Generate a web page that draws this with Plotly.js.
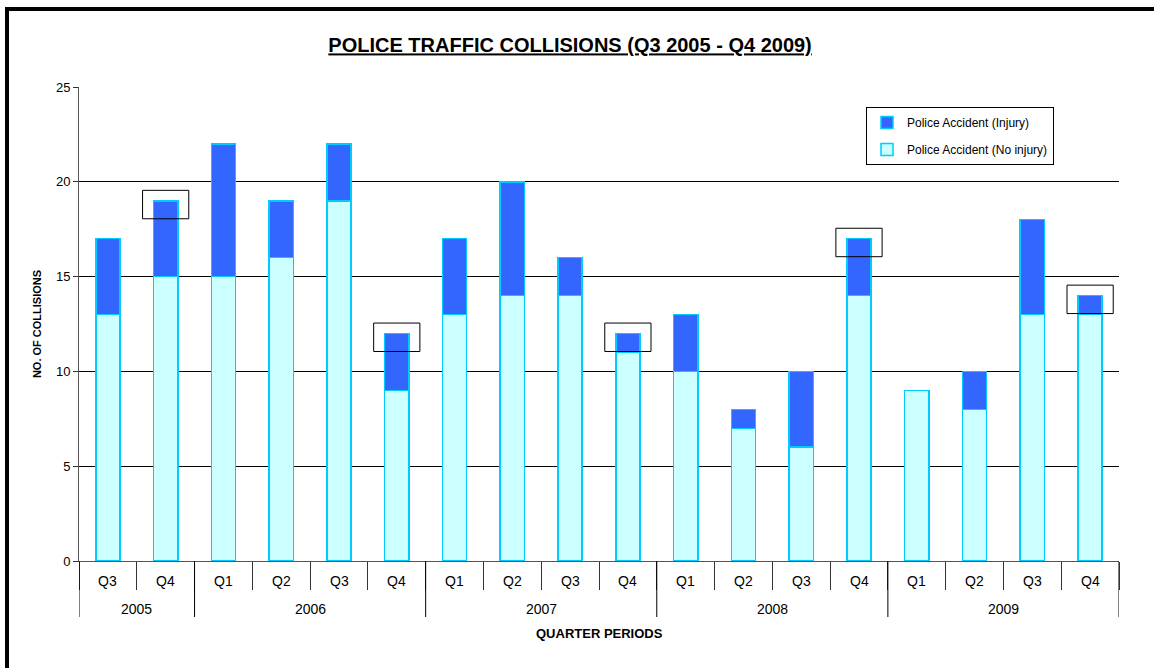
<!DOCTYPE html>
<html>
<head>
<meta charset="utf-8">
<script src="https://cdn.plot.ly/plotly-3.0.1.min.js"></script>
<style>
  html, body { margin: 0; padding: 0; background: #fff; }
  #wrap { position: relative; width: 1154px; height: 668px; overflow: hidden; }
  #chart { position: absolute; left: 0; top: 0; width: 1154px; height: 668px; }
  #frame { position: absolute; left: 5px; top: 7px; width: 1200px; height: 720px;
           border-left: 4px solid #000; border-top: 4px solid #000; pointer-events: none; }
</style>
</head>
<body>
<div id="wrap">
  <div id="chart"></div>
  <div id="frame"></div>
</div>
<script>
// ---- data ----
const years = ['2005','2005','2006','2006','2006','2006','2007','2007','2007','2007',
               '2008','2008','2008','2008','2009','2009','2009','2009'];
const quarters = ['Q3','Q4','Q1','Q2','Q3','Q4','Q1','Q2','Q3','Q4',
                  'Q1','Q2','Q3','Q4','Q1','Q2','Q3','Q4'];
const noInjury = [13,15,15,16,19,9,13,14,14,11,10,7,6,14,9,8,13,13];
const injury   = [4,4,7,3,3,3,4,6,2,1,3,1,4,3,0,2,5,1];
const yTicks = [0,5,10,15,20,25];

// ---- chart ----
const fontFam = 'Liberation Sans, Arial, sans-serif';
const outline = {color: '#00CCFF', width: 1.5};
const idx = quarters.map((q, i) => i);
const plotH = 668 - 87 - 107;

const traces = [
  {
    type: 'bar', name: 'Police Accident (No injury)',
    x: idx, y: noInjury,
    customdata: years.map((y, i) => quarters[i] + ' ' + y),
    marker: {color: '#CCFFFF', line: outline},
    legendgroup: 'noinj', legendrank: 2, hoverinfo: 'skip'
  },
  {
    type: 'bar', name: 'Police Accident (Injury)',
    x: idx, y: injury,
    customdata: years.map((y, i) => quarters[i] + ' ' + y),
    marker: {color: '#3366FF', line: outline},
    legendgroup: 'inj', legendrank: 1, hoverinfo: 'skip'
  }
];

const shapes = [];
const annotations = [];

// highlight boxes around Q4 bar tops
quarters.forEach((q, i) => {
  if (q === 'Q4') {
    const total = noInjury[i] + injury[i];
    shapes.push({
      type: 'rect', xref: 'x', yref: 'y',
      x0: i - 0.4, x1: i + 0.4, y0: total - 0.95, y1: total + 0.55,
      line: {color: '#000', width: 1}, fillcolor: 'rgba(0,0,0,0)'
    });
  }
});

// quarter labels
quarters.forEach((q, i) => {
  annotations.push({
    text: q, x: i, xref: 'x', y: 0, yref: 'paper',
    yanchor: 'middle', yshift: -20, showarrow: false,
    font: {size: 14, family: fontFam, color: '#000'}
  });
});

// year labels and dividers
const groups = [];
years.forEach((y, i) => {
  if (!groups.length || groups[groups.length - 1].year !== y) groups.push({year: y, start: i, end: i});
  else groups[groups.length - 1].end = i;
});
groups.forEach((g, k) => {
  annotations.push({
    text: g.year, x: (g.start + g.end) / 2, xref: 'x', y: 0, yref: 'paper',
    yanchor: 'middle', yshift: -48, showarrow: false,
    font: {size: 14, family: fontFam, color: '#000'}
  });
  const bounds = k === 0 ? [g.start - 0.5, g.end + 0.5] : [g.end + 0.5];
  bounds.forEach(b => shapes.push({
    type: 'line', xref: 'x', yref: 'paper', x0: b, x1: b, y0: 0, y1: -56 / plotH,
    line: {color: '#000', width: 1}
  }));
});

// x-axis title
annotations.push({
  text: '<b>QUARTER PERIODS</b>', x: 0.5, xref: 'paper', y: 0, yref: 'paper',
  yanchor: 'middle', yshift: -72, showarrow: false,
  font: {size: 13, family: fontFam, color: '#000'}
});

const layout = {
  width: 1154, height: 668,
  margin: {l: 79, r: 35, t: 87, b: 107},
  paper_bgcolor: '#fff', plot_bgcolor: '#fff',
  font: {family: fontFam, color: '#000', size: 12},
  barmode: 'stack', bargap: 0.58,
  title: {
    text: '<b><u>POLICE TRAFFIC COLLISIONS (Q3 2005 - Q4 2009)</u></b>',
    font: {size: 20, family: fontFam, color: '#000'},
    x: 0.494, xanchor: 'center', y: 0.932, yanchor: 'middle', yref: 'container'
  },
  xaxis: {
    range: [-0.5, quarters.length - 0.5],
    tickvals: quarters.map((q, i) => i - 0.5).concat([quarters.length - 0.5]),
    ticktext: quarters.map(() => '').concat(['']),
    showline: true, linecolor: '#555', linewidth: 1,
    ticks: 'outside', ticklen: 28, tickcolor: '#333',
    showgrid: false, zeroline: false
  },
  yaxis: {
    range: [0, 25], tickvals: yTicks, ticktext: yTicks.map(String),
    showline: true, linecolor: '#555', linewidth: 1,
    ticks: 'outside', ticklen: 5, tickcolor: '#333',
    showgrid: true, gridcolor: '#000', gridwidth: 1,
    zeroline: false,
    tickfont: {size: 13, family: fontFam, color: '#000'},
    title: {text: '<b>NO. OF COLLISIONS</b>', font: {size: 11, family: fontFam, color: '#000'}, standoff: 12}
  },
  legend: {
    x: (866 - 79) / 1040, y: (561 - 107) / plotH, xanchor: 'left', yanchor: 'top',
    bordercolor: '#000', borderwidth: 1, bgcolor: '#fff',
    font: {size: 12, family: fontFam, color: '#000'},
    traceorder: 'grouped', tracegroupgap: 8
  },
  shapes: shapes,
  annotations: annotations,
  showlegend: true
};

Plotly.newPlot('chart', traces, layout, {displayModeBar: false, staticPlot: true});
</script>
</body>
</html>
